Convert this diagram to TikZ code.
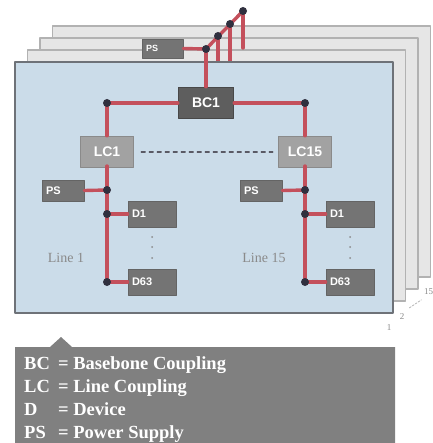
\documentclass[tikz,border=0pt]{standalone}
\usepackage{fontspec}
\setmainfont{Liberation Serif}
\setsansfont{Liberation Sans}
\usetikzlibrary{calc}
\definecolor{sheetblue}{HTML}{CBDCE9}
\definecolor{sheetedge}{HTML}{6E7278}
\definecolor{backsheet}{HTML}{E6E6E6}
\definecolor{backedge}{HTML}{B2B2B2}
\definecolor{bcgrey}{HTML}{5E5E5E}
\definecolor{bcedge}{HTML}{484848}
\definecolor{devgrey}{HTML}{747474}
\definecolor{devedge}{HTML}{646464}
\definecolor{lcgrey}{HTML}{A2A2A2}
\definecolor{lcedge}{HTML}{8A8A8A}
\definecolor{wirecolor}{HTML}{C4505C}
\definecolor{dotcolor}{HTML}{30303F}
\definecolor{legendgrey}{HTML}{808080}
\definecolor{labelgrey}{HTML}{8A8A8A}

\begin{document}
\begin{tikzpicture}[
    x=1pt, y=-1pt,
    line join=round,
    line cap=round,
    wire/.style={wirecolor, line width=3.4pt},
    junction/.style={fill=dotcolor},
    bcbox/.style={fill=bcgrey, draw=bcedge, line width=1.4pt, minimum width=55pt, minimum height=31pt,
        inner sep=0pt, text=white, font=\sffamily\bfseries\fontsize{14}{14}\selectfont},
    lcbox/.style={fill=lcgrey, draw=lcedge, line width=1.4pt, minimum width=53pt, minimum height=31pt,
        inner sep=0pt, text=white, font=\sffamily\bfseries\fontsize{14}{14}\selectfont},
    devbox/.style={fill=devgrey, draw=devedge, line width=0.8pt, minimum width=48pt, minimum height=26pt,
        inner xsep=4pt, inner ysep=0pt, text width=40pt, align=left, text=white,
        font=\sffamily\bfseries\fontsize{11}{11}\selectfont},
    psbox/.style={devbox, minimum width=42pt, minimum height=21pt, text width=34pt},
    sheetnum/.style={text=labelgrey, font=\fontsize{9}{9}\selectfont, inner sep=0pt}
]
    \useasboundingbox (0,0) rectangle (432,443);
    \fill[white] (0,0) rectangle (432,443);

    % Stacked line sheets behind the front one
    \foreach \k in {3,2,1}
        \fill[backsheet, draw=backedge, line width=1.4pt]
            (15+12.5*\k, 62-12*\k) rectangle (393+12.5*\k, 313-12*\k);

    % Backbone wiring to the other sheets
    \coordinate (j0) at (206,49);
    \coordinate (j1) at (218,36);
    \coordinate (j2) at (230,24);
    \coordinate (j3) at (243,11);
    \coordinate (f1) at (218,62);
    \coordinate (f2) at (230,62);
    \coordinate (f3) at (243,48);
    \node[psbox, minimum width=41pt, minimum height=19pt, text width=33pt,
        font=\sffamily\bfseries\fontsize{9}{9}\selectfont] (pstop) at (162.5,48.5) {PS};
    \draw[wire] (pstop.east) -- (j0);
    \draw[wire] (j0) -- (j3);
    \draw[wire] (j1) -- (f1);
    \draw[wire] (j2) -- (f2);
    \draw[wire] (j3) -- (f3);

    % Front sheet (line 1 to line 15)
    \fill[sheetblue, draw=sheetedge, line width=1.8pt] (15,62) rectangle (393,313);

    % Backbone and line couplers
    \node[bcbox] (bc1) at (206,103) {BC1};
    \node[lcbox] (lc1) at (107,152) {LC1};
    \node[lcbox] (lc15) at (305,152) {LC15};
    \coordinate (bl) at (107,103);
    \coordinate (br) at (305,103);
    \draw[wire] (j0) -- (bc1.north);
    \draw[wire] (bl) -- (bc1.west);
    \draw[wire] (bc1.east) -- (br);
    \draw[wire] (bl) -- (lc1.north);
    \draw[wire] (br) -- (lc15.north);
    \draw[dotcolor!80, line width=1.2pt, dash pattern=on 4pt off 4pt, shorten <=7pt, shorten >=5pt]
        (lc1.east) -- (lc15.west);

    % Line 1 and line 15
    \foreach \side/\dx/\name in {l/0/Line 1, r/198/Line 15} {
        \node[psbox] (ps\side) at (63+\dx,190.5) {PS};
        \node[devbox] (d1\side) at (152+\dx,214) {D1};
        \node[devbox] (d63\side) at (152+\dx,282) {D63};
        \coordinate (c1\side) at (107+\dx,190);
        \coordinate (c2\side) at (107+\dx,214);
        \coordinate (c3\side) at (107+\dx,282);
        \draw[wire] (c3\side) -- ++(0,-116);
        \draw[wire] (ps\side.east) -- (c1\side);
        \draw[wire] (c2\side) -- (d1\side.west);
        \draw[wire] (c3\side) -- (d63\side.west);
        \foreach \c in {c1,c2,c3}
            \fill[junction] (\c\side) circle (4);
        \foreach \y in {237,247,258}
            \fill[labelgrey] (152+\dx,\y) circle (1);
        \node[text=labelgrey, font=\fontsize{14}{14}\selectfont, inner sep=0pt] (name\side) at (66+\dx,258) {\name};
    }

    % Junction dots on the backbone
    \foreach \c in {j0,j1,j2,j3,bl,br}
        \fill[junction] (\c) circle (4);

    % Sheet numbers
    \node[sheetnum] (n1) at (389,328) {1};
    \node[sheetnum] (n2) at (402,317) {2};
    \node[sheetnum, anchor=west] (n15) at (424,292) {15};
    \draw[labelgrey!70, line width=0.7pt, dash pattern=on 2pt off 1.5pt] (n2.north east) ++(5,-6) -- ++(12,-8);

    % Legend
    \fill[legendgrey] (15,347) -- (50,347) -- (61,337) -- (72,347) -- (395,347) -- (395,443) -- (15,443) -- cycle;
    \foreach \abbr/\desc [count=\i from 0] in {BC/Basebone Coupling, LC/Line Coupling, D/Device, PS/Power Supply}
        \node[text=white, font=\bfseries\fontsize{18.5}{18.5}\selectfont, anchor=base west, inner sep=0pt]
            (leg\i) at (24,369+23.2*\i) {\makebox[34pt][l]{\abbr}= \desc};

\end{tikzpicture}
\end{document}
